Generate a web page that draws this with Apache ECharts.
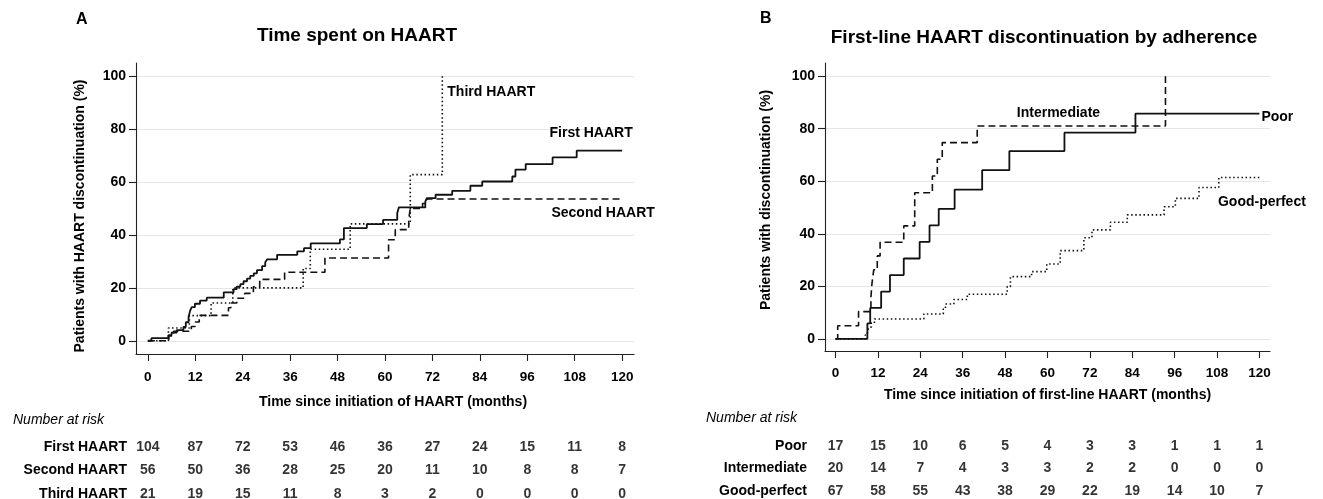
<!DOCTYPE html>
<html>
<head>
<meta charset="utf-8">
<script src="https://cdn.jsdelivr.net/npm/echarts@6/dist/echarts.min.js"></script>
<style>
html,body{margin:0;padding:0;background:#fff;}
#chart{width:1323px;height:499px;}
</style>
</head>
<body>
<div id="chart"></div>
<script>
// ---------- data ----------
const monthTicks = [0, 12, 24, 36, 48, 60, 72, 84, 96, 108, 120];
const pctTicks = [0, 20, 40, 60, 80, 100];

// Panel A: Kaplan-Meier steps (time in months, cumulative % discontinued)
const firstT = [0, 0.9, 5.2, 6.0, 7.3, 9.0, 9.6, 10.3, 10.7, 11.1, 11.9, 13.2, 14.9, 19.2, 21.7, 22.5, 23.4, 24.2, 25.1, 25.9, 26.8, 27.6, 28.9, 29.7, 30.2, 32.7, 37.8, 39.5, 41.2, 48.6, 49.6, 55.4, 59.5, 63.1, 63.5, 70.2, 70.6, 72.8, 77.0, 81.6, 84.6, 92.2, 93.0, 95.6, 102.4, 108.5, 120];
const firstV = [0, 1.0, 2.1, 3.1, 4.0, 5.2, 7.0, 9.0, 11.4, 12.7, 14.0, 15.2, 16.3, 18.3, 19.5, 20.5, 21.4, 22.5, 23.5, 24.5, 25.5, 26.7, 28.2, 29.7, 30.8, 32.5, 33.8, 35.0, 36.8, 38.3, 42.6, 44.1, 45.7, 48.3, 50.4, 52.7, 53.9, 55.2, 56.7, 58.6, 60.2, 62.1, 64.7, 66.8, 69.3, 71.9, 71.9];
const secondT = [0, 5.3, 6.5, 11.0, 12.0, 13.0, 20.4, 21.0, 22.5, 24.5, 26.7, 28.3, 34.6, 44.8, 60.9, 62.6, 66.0, 66.4, 69.5, 70.6, 120];
const secondV = [0, 1.8, 3.6, 5.4, 7.1, 9.6, 12.5, 14.3, 16.1, 17.9, 20.4, 23.2, 25.9, 31.3, 38.2, 42.0, 46.0, 50.0, 51.9, 53.6, 53.6];
const thirdT = [0, 5.2, 10.5, 16.0, 21.5, 39.3, 41.1, 51.2, 66.4, 74.5];
const thirdV = [0, 4.8, 9.5, 14.3, 20.0, 27.3, 34.6, 44.2, 62.8, 100];

// Panel B
const poorT = [0, 9.0, 9.8, 12.9, 15.4, 19.3, 23.8, 26.6, 29.2, 33.7, 41.5, 49.2, 64.8, 84.9, 120];
const poorV = [0, 5.9, 11.8, 18.0, 24.3, 30.6, 36.9, 43.2, 49.5, 56.8, 64.2, 71.5, 78.5, 85.7, 85.7];
const interT = [0, 0.6, 6.5, 10.0, 10.3, 10.8, 11.8, 12.6, 19.3, 22.4, 27.4, 28.8, 30.2, 40.1, 93.4];
const interV = [0, 5.0, 10.4, 15.8, 21.1, 26.3, 31.6, 36.8, 43.0, 55.6, 62.0, 68.4, 74.7, 81.0, 100];
const goodT = [0, 8.4, 9.0, 9.5, 10.1, 11.0, 25.0, 30.5, 31.1, 33.5, 37.3, 48.6, 49.5, 55.5, 59.8, 63.6, 70.3, 72.6, 77.8, 82.6, 93.0, 96.2, 102.9, 108.5, 120];
const goodV = [0, 1.5, 3.0, 4.5, 6.0, 7.6, 9.5, 11.4, 13.3, 15.0, 17.0, 19.9, 23.7, 25.6, 28.5, 33.6, 38.5, 41.5, 44.4, 47.2, 50.3, 53.5, 57.6, 61.4, 61.4];

// Numbers at risk
const riskRowsA = ['First HAART', 'Second HAART', 'Third HAART'];
const riskFirst = [104, 87, 72, 53, 46, 36, 27, 24, 15, 11, 8];
const riskSecond = [56, 50, 36, 28, 25, 20, 11, 10, 8, 8, 7];
const riskThird = [21, 19, 15, 11, 8, 3, 2, 0, 0, 0, 0];
const riskRowsB = ['Poor', 'Intermediate', 'Good-perfect'];
const riskPoor = [17, 15, 10, 6, 5, 4, 3, 3, 1, 1, 1];
const riskInter = [20, 14, 7, 4, 3, 3, 2, 2, 0, 0, 0];
const riskGood = [67, 58, 55, 43, 38, 29, 22, 19, 14, 10, 7];

// ---------- helpers ----------
const FF = '"Liberation Sans", Arial, Helvetica, sans-serif';
const INK = '#111';
function pairs(t, v) { return t.map((x, i) => [x, v[i]]); }
function riskData(rows, lists) {
  const out = [];
  rows.forEach((r, ri) => lists[ri].forEach((n, i) => out.push([monthTicks[i], r, n])));
  return out;
}

const solid = { color: INK, width: 1.8, type: 'solid' };
const dashed = { color: INK, width: 1.6, type: [7, 4] };
const dotted = { color: INK, width: 1.6, type: [1.5, 2.6] };

function kmSeries(name, t, v, style, xi, lab) {
  return {
    name, type: 'line', step: 'end', xAxisIndex: xi, yAxisIndex: xi,
    data: pairs(t, v), symbol: 'none', showSymbol: false, silent: true,
    lineStyle: style, clip: false,
    endLabel: Object.assign({
      show: true, formatter: name, distance: 0,
      color: '#000', fontFamily: FF, fontWeight: 'bold', fontSize: 14
    }, lab)
  };
}

function mainX(gi, nameGap, labelMargin, name, pad) {
  return {
    gridIndex: gi, type: 'value', min: -3, max: 123,
    name, nameLocation: 'middle', nameGap, nameMoveOverlap: false,
    nameTextStyle: { color: '#000', fontFamily: FF, fontWeight: 'bold', fontSize: 14, padding: pad },
    axisLine: { show: true, onZero: false, lineStyle: { color: '#222', width: 1.1 } },
    axisTick: { show: true, length: 7, customValues: monthTicks, lineStyle: { color: '#222', width: 1.1 } },
    axisLabel: { customValues: monthTicks, margin: labelMargin, color: '#000', fontFamily: FF, fontWeight: 'bold', fontSize: 13.5 },
    splitLine: { show: false }
  };
}
function mainY(gi, min, nameGap, name, pad) {
  return {
    gridIndex: gi, type: 'value', min, max: 105,
    name, nameLocation: 'middle', nameGap, nameMoveOverlap: false,
    nameTextStyle: { color: '#000', fontFamily: FF, fontWeight: 'bold', fontSize: 14, padding: pad },
    axisLine: { show: true, onZero: false, lineStyle: { color: '#222', width: 1.1 } },
    axisTick: { show: true, length: 7, customValues: pctTicks, lineStyle: { color: '#222', width: 1.1 } },
    axisLabel: { customValues: pctTicks, margin: 10, color: '#000', fontFamily: FF, fontWeight: 'bold', fontSize: 14 },
    splitLine: { show: true, lineStyle: { color: '#e6e6e6', width: 1 } }
  };
}
function riskX(gi) {
  return { gridIndex: gi, type: 'value', min: -3, max: 123, show: false };
}
function riskY(gi, rows, margin) {
  return {
    gridIndex: gi, type: 'category', data: rows, inverse: true,
    axisLine: { show: false }, axisTick: { show: false }, splitLine: { show: false },
    axisLabel: { margin, color: '#000', fontFamily: FF, fontWeight: 'bold', fontSize: 14 }
  };
}
function riskSeries(gi, rows, lists) {
  return {
    type: 'scatter', xAxisIndex: gi, yAxisIndex: gi, silent: true,
    data: riskData(rows, lists), symbolSize: 1,
    itemStyle: { color: 'rgba(0,0,0,0)' },
    label: {
      show: true, position: 'inside', formatter: p => String(p.value[2]),
      color: '#000', fontFamily: FF, fontWeight: 'bold', fontSize: 14
    }
  };
}
function txt(x, y, text, font, align) {
  return {
    type: 'text', x, y, silent: true,
    style: { text, font, fill: '#000', align: align || 'left', verticalAlign: 'middle',
             textAlign: align || 'left', textVerticalAlign: 'middle' }
  };
}

const chart = echarts.init(document.getElementById('chart'), null, { renderer: 'canvas' });
chart.setOption({
  animation: false,
  backgroundColor: '#fff',
  grid: [
    { left: 136, top: 63, width: 498, height: 291, containLabel: false, outerBoundsMode: 'none' },
    { left: 825, top: 63, width: 445, height: 288, containLabel: false, outerBoundsMode: 'none' },
    { left: 136, top: 435.5, width: 498, height: 70, containLabel: false, outerBoundsMode: 'none' },
    { left: 825, top: 434.5, width: 445, height: 68, containLabel: false, outerBoundsMode: 'none' }
  ],
  xAxis: [
    mainX(0, 41, 16, 'Time since initiation of HAART (months)', [0, 0, 0, 16]),
    mainX(1, 37, 15, 'Time since initiation of first-line HAART (months)', [0, 0, 0, 0]),
    riskX(2), riskX(3)
  ],
  yAxis: [
    mainY(0, -5, 49, 'Patients with HAART discontinuation (%)', [0, 15, 0, 0]),
    mainY(1, -4.6, 52, 'Patients with discontinuation (%)', [0, 0, 0, 14]),
    riskY(2, riskRowsA, 9),
    riskY(3, riskRowsB, 18)
  ],
  graphic: [
    txt(76, 20, 'A', 'bold 16px ' + FF),
    txt(357, 36, 'Time spent on HAART', 'bold 19px ' + FF, 'center'),
    txt(760, 19, 'B', 'bold 16px ' + FF),
    txt(1044, 38, 'First-line HAART discontinuation by adherence', 'bold 19px ' + FF, 'center'),
    txt(13, 420, 'Number at risk', 'italic 14px ' + FF),
    txt(706, 418, 'Number at risk', 'italic 14px ' + FF)
  ],
  series: [
    kmSeries('First HAART', firstT, firstV, solid, 0, { align: 'center', verticalAlign: 'middle', offset: [-31, -17] }),
    kmSeries('Second HAART', secondT, secondV, dashed, 0, { align: 'center', verticalAlign: 'middle', offset: [-19, 14] }),
    kmSeries('Third HAART', thirdT, thirdV, dotted, 0, { align: 'left', verticalAlign: 'middle', offset: [5, 16] }),
    kmSeries('Poor', poorT, poorV, solid, 1, { align: 'left', verticalAlign: 'middle', offset: [2, 3] }),
    kmSeries('Intermediate', interT, interV, dashed, 1, { align: 'center', verticalAlign: 'middle', offset: [-107, 37] }),
    kmSeries('Good-perfect', goodT, goodV, dotted, 1, { align: 'center', verticalAlign: 'middle', offset: [2.5, 25] }),
    riskSeries(2, riskRowsA, [riskFirst, riskSecond, riskThird]),
    riskSeries(3, riskRowsB, [riskPoor, riskInter, riskGood])
  ]
});
</script>
</body>
</html>
